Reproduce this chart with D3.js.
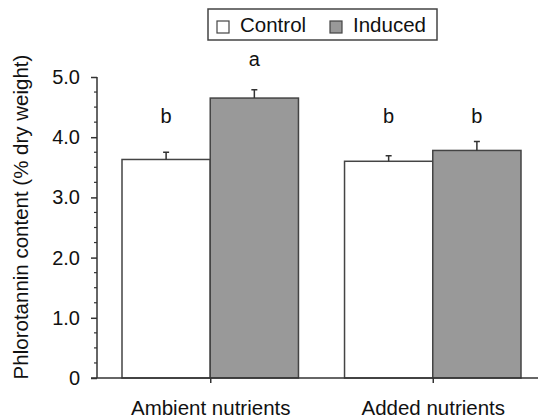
<!DOCTYPE html>
<html>
<head>
<meta charset="utf-8">
<script src="https://d3js.org/d3.v7.min.js"></script>
<style>
  body { margin: 0; background: #fff; }
  text { font-family: "Liberation Sans", Arial, sans-serif; fill: #111; }
</style>
</head>
<body>
<div id="chart"></div>
<script>
var groups = ["Ambient nutrients", "Added nutrients"];
var series = ["Control", "Induced"];
var controlValues = [3.63, 3.60];
var controlErrors = [0.12, 0.09];
var inducedValues = [4.65, 3.78];
var inducedErrors = [0.14, 0.15];
var controlLetters = ["b", "b"];
var inducedLetters = ["a", "b"];
var yTicks = [0, 1, 2, 3, 4, 5];

(function() {
    var width = 538, height = 419;
    var margin = { top: 77, left: 97, right: 17, bottom: 41 };

    var svg = d3.select("#chart")
    .append("svg")
    .attr("width", width)
    .attr("height", height);

    var y = d3.scaleLinear()
    .domain([0, 5])
    .range([height - margin.bottom, margin.top]);

    // groups sit side by side, each holds two touching bars
    var x0 = d3.scaleBand()
    .domain(groups)
    .range([122, 521])
    .paddingInner(0.207)
    .paddingOuter(0);

    var x1 = d3.scaleBand()
    .domain(series)
    .range([0, x0.bandwidth()]);

    var fills = { Control: "#fff", Induced: "#999" };

    var rows = [];
    groups.forEach(function(g, i) {
        rows.push({ group: g, s: "Control", v: controlValues[i], e: controlErrors[i], letter: controlLetters[i] });
        rows.push({ group: g, s: "Induced", v: inducedValues[i], e: inducedErrors[i], letter: inducedLetters[i] });
    });

    // y axis with minor ticks every 0.25
    var yAxis = d3.axisLeft(y)
    .tickValues(yTicks)
    .tickSize(6)
    .tickPadding(11)
    .tickFormat(function(d) { return d === 0 ? "0" : d3.format(".1f")(d); });

    var yG = svg.append("g")
    .attr("transform", "translate(" + margin.left + ",0)")
    .call(yAxis);

    yG.select(".domain").remove();
    yG.append("line")
    .attr("x1", 0).attr("x2", 0)
    .attr("y1", y(0)).attr("y2", y(5))
    .attr("stroke", "#333").attr("stroke-width", 1.5);

    yG.selectAll(".minor")
    .data(d3.range(0.25, 5, 0.25).filter(function(d) { return d % 1 !== 0; }))
    .enter().append("line")
    .attr("class", "minor")
    .attr("x1", -3).attr("x2", 0)
    .attr("y1", function(d) { return y(d); })
    .attr("y2", function(d) { return y(d); })
    .attr("stroke", "#333").attr("stroke-width", 1.2);

    yG.selectAll(".tick line").attr("stroke", "#333").attr("stroke-width", 1.5);
    yG.selectAll(".tick text").style("font-size", "20px").attr("fill", "#111");

    // y title
    svg.append("text")
    .attr("transform", "translate(28," + 217 + ") rotate(-90)")
    .attr("text-anchor", "middle")
    .style("font-size", "20.5px")
    .text("Phlorotannin content (% dry weight)");

    // bars
    svg.selectAll(".bar")
    .data(rows)
    .enter().append("rect")
    .attr("class", "bar")
    .attr("x", function(d) { return x0(d.group) + x1(d.s); })
    .attr("y", function(d) { return y(d.v); })
    .attr("width", x1.bandwidth())
    .attr("height", function(d) { return y(0) - y(d.v); })
    .attr("fill", function(d) { return fills[d.s]; })
    .attr("stroke", "#444")
    .attr("stroke-width", 1.5);

    // error bars
    svg.selectAll(".err")
    .data(rows)
    .enter().append("path")
    .attr("class", "err")
    .attr("d", function(d) {
        var cx = x0(d.group) + x1(d.s) + x1.bandwidth() / 2;
        return "M" + cx + "," + y(d.v) + "V" + y(d.v + d.e) +
               "M" + (cx - 3) + "," + y(d.v + d.e) + "H" + (cx + 3);
    })
    .attr("fill", "none")
    .attr("stroke", "#333")
    .attr("stroke-width", 1.5);

    // significance letters
    svg.selectAll(".letter")
    .data(rows)
    .enter().append("text")
    .attr("class", "letter")
    .attr("x", function(d) { return x0(d.group) + x1(d.s) + x1.bandwidth() / 2; })
    .attr("y", function(d) { return d.letter === "a" ? 66 : 123; })
    .attr("text-anchor", "middle")
    .style("font-size", "20px")
    .text(function(d) { return d.letter; });

    // x axis
    var xAxis = d3.axisBottom(d3.scalePoint().domain(groups).range([x0(groups[0]) + x0.bandwidth() / 2, x0(groups[1]) + x0.bandwidth() / 2]))
    .tickSize(5)
    .tickPadding(17);

    var xG = svg.append("g")
    .attr("transform", "translate(0," + y(0) + ")")
    .call(xAxis);

    xG.select(".domain").remove();
    xG.append("line")
    .attr("x1", 91).attr("x2", width)
    .attr("stroke", "#333").attr("stroke-width", 1.5);
    xG.selectAll(".tick line").attr("stroke", "#333").attr("stroke-width", 1.5);
    xG.selectAll(".tick text").style("font-size", "20.5px").attr("fill", "#111");

    // legend
    var lg = svg.append("g").attr("transform", "translate(208,9)");
    lg.append("rect")
    .attr("width", 229).attr("height", 31)
    .attr("fill", "#fff").attr("stroke", "#444").attr("stroke-width", 1.5);

    var items = lg.selectAll(".item")
    .data(series)
    .enter().append("g")
    .attr("class", "item")
    .attr("transform", function(d, i) { return "translate(" + (i === 0 ? 9 : 122) + ",0)"; });

    items.append("rect")
    .attr("y", 12).attr("width", 12).attr("height", 12)
    .attr("fill", function(d) { return fills[d]; })
    .attr("stroke", "#444").attr("stroke-width", 1.2);

    items.append("text")
    .attr("x", 23).attr("y", 23)
    .style("font-size", "20.5px")
    .text(function(d) { return d; });
})();
</script>
</body>
</html>
